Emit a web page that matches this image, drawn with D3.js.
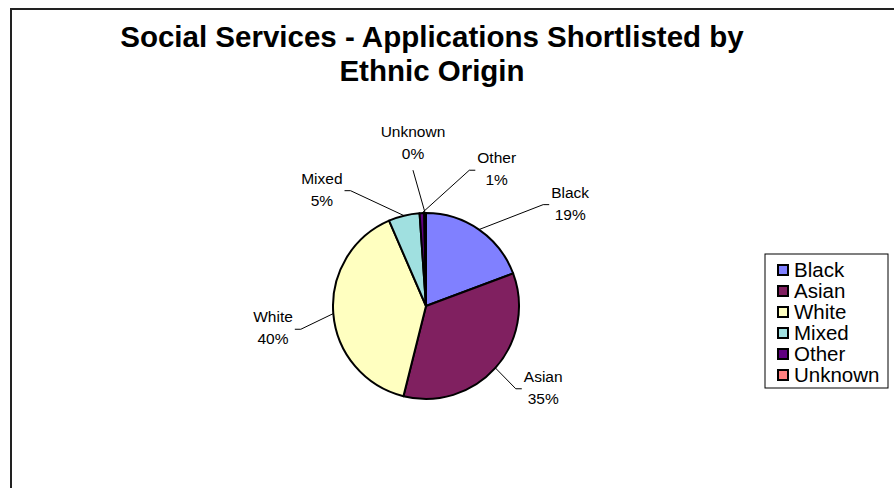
<!DOCTYPE html>
<html>
<head>
<meta charset="utf-8">
<title>Social Services - Applications Shortlisted by Ethnic Origin</title>
<script src="https://cdn.jsdelivr.net/npm/d3@7"></script>
<style>
    html, body { margin: 0; padding: 0; background: #fff; overflow: hidden; }
    svg { display: block; font-family: Arial, "Liberation Sans", sans-serif; }
</style>
</head>
<body>
<div id="content"></div>
<script>
// Chart data
var categories = ["Black", "Asian", "White", "Mixed", "Other", "Unknown"];
var shares = [19.3, 34.6, 39.6, 5.4, 0.8, 0.3];
var percentLabels = ["19%", "35%", "40%", "5%", "1%", "0%"];
var titleLines = ["Social Services - Applications Shortlisted by", "Ethnic Origin"];

var chart = (function () {

    "use strict";

    var width = 894,
        height = 488,
        pieX = 426,
        pieY = 306,
        radius = 93,
        colours = ["#8080ff", "#802060", "#ffffc0", "#a0e0e0", "#600080", "#ff8080"],
        // where each data label sits, relative to the pie centre, in radius units
        labelOffsets = [
            [1.55, -1.09],
            [1.26, 0.89],
            [-1.645, 0.25],
            [-1.12, -1.24],
            [0.76, -1.46],
            [-0.14, -1.74]
        ];

    function drawFrame(svg) {
        svg.append("rect")
            .attr("x", 11)
            .attr("y", 9)
            .attr("width", width + 20)
            .attr("height", height + 20)
            .attr("fill", "#fff")
            .attr("stroke", "#222")
            .attr("stroke-width", 2);
    }

    function drawTitle(svg) {
        svg.append("g")
            .selectAll("text")
            .data(titleLines)
            .enter()
            .append("text")
            .attr("x", 432)
            .attr("y", function (d, i) { return 47 + i * 34; })
            .attr("text-anchor", "middle")
            .attr("font-size", "29.5px")
            .attr("font-weight", "bold")
            .attr("fill", "#000")
            .text(function (d) { return d; });
    }

    function drawPie(svg) {
        var pie = d3.pie().sort(null).value(function (d) { return d; }),
            arcs = pie(shares),
            arc = d3.arc().innerRadius(0).outerRadius(radius),
            g = svg.append("g").attr("transform", "translate(" + pieX + "," + pieY + ")");

        g.selectAll("path.slice")
            .data(arcs)
            .enter()
            .append("path")
            .attr("class", "slice")
            .attr("d", arc)
            .attr("fill", function (d, i) { return colours[i]; })
            .attr("stroke", "#000")
            .attr("stroke-width", 2)
            .attr("stroke-linejoin", "round");

        // data labels
        var labels = g.selectAll("g.label")
            .data(arcs)
            .enter()
            .append("g")
            .attr("class", "label")
            .attr("transform", function (d, i) {
                return "translate(" + (labelOffsets[i][0] * radius) + "," + (labelOffsets[i][1] * radius) + ")";
            });

        labels.append("text")
            .attr("y", -7)
            .text(function (d, i) { return categories[i]; });
        labels.append("text")
            .attr("y", 15)
            .text(function (d, i) { return percentLabels[i]; });
        labels.selectAll("text")
            .attr("text-anchor", "middle")
            .attr("font-size", "15.5px")
            .attr("fill", "#000");

        // leader lines from the slice edge to the label
        labels.each(function (d, i) {
            var node = this,
                halfWidth = 0;
            d3.select(node).selectAll("text").each(function () {
                halfWidth = Math.max(halfWidth, this.getComputedTextLength() / 2);
            });
            var mid = (d.startAngle + d.endAngle) / 2,
                ax = Math.sin(mid) * radius,
                ay = -Math.cos(mid) * radius,
                lx = labelOffsets[i][0] * radius,
                ly = labelOffsets[i][1] * radius,
                pts;
            if (Math.abs(ax - lx) < halfWidth) {
                pts = [[ax, ay], [lx, ly + 26]];
            } else {
                var side = ax > lx ? 1 : -1,
                    edge = lx + side * (halfWidth + 2);
                pts = [[ax, ay], [edge + side * 6, ly], [edge, ly]];
            }
            g.append("path")
                .attr("d", d3.line()(pts))
                .attr("fill", "none")
                .attr("stroke", "#000")
                .attr("stroke-width", 1);
        });
    }

    function drawLegend(svg) {
        var g = svg.append("g").attr("transform", "translate(765,254)");

        g.append("rect")
            .attr("width", 123)
            .attr("height", 134)
            .attr("fill", "#fff")
            .attr("stroke", "#000")
            .attr("stroke-width", 1);

        var rows = g.selectAll("g.row")
            .data(categories)
            .enter()
            .append("g")
            .attr("class", "row")
            .attr("transform", function (d, i) {
                return "translate(0," + (16 + i * 21) + ")";
            });

        rows.append("rect")
            .attr("x", 13)
            .attr("y", -5)
            .attr("width", 10)
            .attr("height", 10)
            .attr("fill", function (d, i) { return colours[i]; })
            .attr("stroke", "#000")
            .attr("stroke-width", 2);

        rows.append("text")
            .attr("x", 29)
            .attr("y", 7)
            .attr("font-size", "20.5px")
            .attr("fill", "#000")
            .text(function (d) { return d; });
    }

    function render() {
        var svg = d3.select("#content").append("svg")
            .attr("width", width)
            .attr("height", height);

        drawFrame(svg);
        drawTitle(svg);
        drawPie(svg);
        drawLegend(svg);
    }

    return {
        render: render
    };

}());

chart.render();
</script>
</body>
</html>
